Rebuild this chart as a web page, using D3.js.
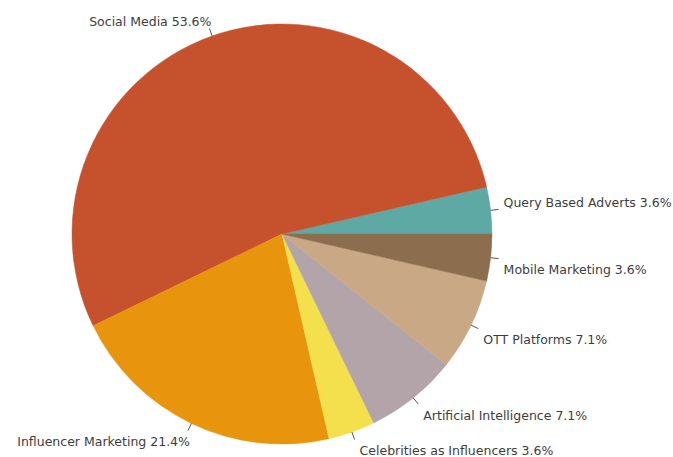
<!DOCTYPE html>
<html>
<head>
<meta charset="utf-8">
<script src="https://cdn.jsdelivr.net/npm/d3@7"></script>
<style>
  html, body { margin: 0; padding: 0; background: #fff; }
  svg { display: block; }
  .lbl { font-family: "DejaVu Sans", sans-serif; font-size: 12.5px; fill: #3d3d3d; }
</style>
</head>
<body>
<svg id="chart" width="673" height="457"></svg>
<script>
// Slices listed counter-clockwise, starting at three o'clock
const categories = [
  "Query Based Adverts",
  "Social Media",
  "Influencer Marketing",
  "Celebrities as Influencers",
  "Artificial Intelligence",
  "OTT Platforms",
  "Mobile Marketing"
];
const shares = [3.6, 53.6, 21.4, 3.6, 7.1, 7.1, 3.6];
const sliceColors = ["#5ea9a4", "#c5522d", "#e8940c", "#f4e04d", "#b2a4a9", "#c8a885", "#8c6e4e"];

const width = 673, height = 457;
const cx = 282, cy = 234, radius = 210;
const leaderLen = 8;

const svg = d3.select("#chart");
const g = svg.append("g").attr("transform", `translate(${cx},${cy})`);

const data = categories.map((name, i) => ({ name, value: shares[i], color: sliceColors[i] }));

const pie = d3.pie()
  .sort(null)
  .value(d => d.value)
  .startAngle(Math.PI / 2)
  .endAngle(Math.PI / 2 - 2 * Math.PI);

const arc = d3.arc().innerRadius(0).outerRadius(radius);

const arcs = pie(data);

g.selectAll("path.slice")
  .data(arcs)
  .join("path")
  .attr("class", "slice")
  .attr("d", arc)
  .attr("fill", d => d.data.color)
  .attr("stroke", d => d.data.color)
  .attr("stroke-width", 0.5);

// leader ticks and labels
const point = (a, r) => [r * Math.sin(a), -r * Math.cos(a)];

arcs.forEach(d => {
  const mid = (d.startAngle + d.endAngle) / 2;
  const p0 = point(mid, radius);
  const p1 = point(mid, radius + leaderLen);
  g.append("line")
    .attr("x1", p0[0]).attr("y1", p0[1])
    .attr("x2", p1[0]).attr("y2", p1[1])
    .attr("stroke", "#555")
    .attr("stroke-width", 1);

  const right = p1[0] > 0;
  const upper = p1[1] < 0;
  const tx = right ? p1[0] + 5 : p1[0] + 2;
  const ty = upper ? p1[1] - 2 : p1[1] + 15.5;
  g.append("text")
    .attr("class", "lbl")
    .attr("x", tx)
    .attr("y", ty)
    .attr("text-anchor", right ? "start" : "end")
    .text(`${d.data.name} ${d.data.value.toFixed(1)}%`);
});
</script>
</body>
</html>
